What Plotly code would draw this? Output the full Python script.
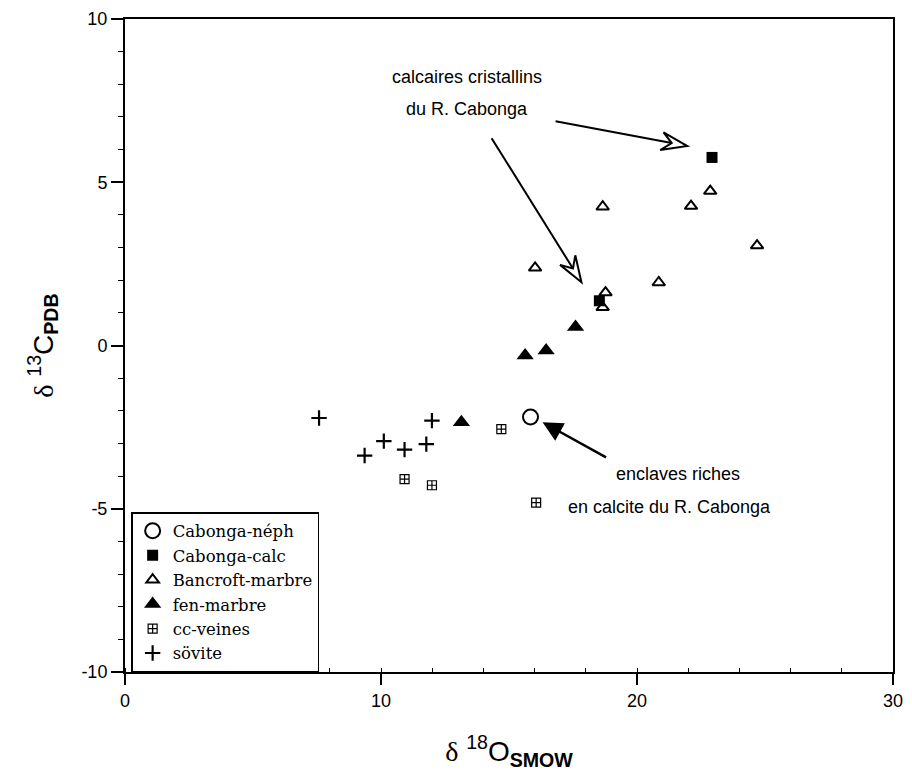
import plotly.graph_objects as go

# ---- data ----
neph_x = [15.84]
neph_y = [-2.19]
calc_x = [22.93, 18.53]
calc_y = [5.76, 1.37]
bancroft_x = [22.86, 22.11, 18.66, 24.69, 16.02, 20.85, 18.77, 18.66]
bancroft_y = [4.73, 4.27, 4.25, 3.06, 2.38, 1.93, 1.62, 1.17]
fen_x = [17.60, 16.45, 15.63, 13.14]
fen_y = [0.57, -0.15, -0.31, -2.35]
veines_x = [14.70, 10.92, 11.99, 16.06]
veines_y = [-2.56, -4.09, -4.28, -4.81]
sovite_x = [7.58, 11.99, 10.11, 9.36, 10.92, 11.77]
sovite_y = [-2.22, -2.30, -2.93, -3.37, -3.19, -3.02]

x_ticks = [0, 10, 20, 30]
y_ticks = [-10, -5, 0, 5, 10]
y_tick_labels = ["-10", "-5", "0", "5", "10"]

fig = go.Figure()
serif = "DejaVu Serif"
sans = "Liberation Sans"

fig.add_trace(go.Scatter(x=neph_x, y=neph_y, mode="markers", name="Cabonga-néph",
                         marker=dict(symbol="circle-open", size=15, color="black", line=dict(width=2))))
fig.add_trace(go.Scatter(x=calc_x, y=calc_y, mode="markers", name="Cabonga-calc",
                         marker=dict(symbol="square", size=11, color="black")))
fig.add_trace(go.Scatter(x=bancroft_x, y=bancroft_y, mode="markers", name="Bancroft-marbre",
                         marker=dict(symbol="triangle-up-open", size=11, color="black", line=dict(width=2))))
fig.add_trace(go.Scatter(x=fen_x, y=fen_y, mode="markers", name="fen-marbre",
                         marker=dict(symbol="triangle-up", size=15, color="black")))
fig.add_trace(go.Scatter(x=veines_x, y=veines_y, mode="markers", name="cc-veines",
                         marker=dict(symbol="square-cross-open", size=9, color="black", line=dict(width=1.2))))
fig.add_trace(go.Scatter(x=sovite_x, y=sovite_y, mode="markers", name="sövite",
                         marker=dict(symbol="cross-thin-open", size=11, color="black", line=dict(width=2.2))))

# ---- annotation arrows ----
PX_X = 25.6   # pixels per x unit
PX_Y = 32.6   # pixels per y unit


def hollow_arrow(x0, y0, x1, y1, length=26, half=9, notch=10):
    import math
    dxp = (x1 - x0) * PX_X
    dyp = (y1 - y0) * PX_Y
    L = math.hypot(dxp, dyp)
    ux, uy = dxp / L, dyp / L
    nx, ny = -uy, ux

    def pt(back, side):
        return (x1 + (-ux * back + nx * side) / PX_X, y1 + (-uy * back + ny * side) / PX_Y)
    p_l = pt(length, half)
    p_n = pt(length - notch, 0)
    p_r = pt(length, -half)
    fig.add_shape(type="line", x0=x0, y0=y0, x1=p_n[0], y1=p_n[1], xref="x", yref="y",
                  line=dict(color="black", width=2))
    path = f"M {x1},{y1} L {p_l[0]},{p_l[1]} L {p_n[0]},{p_n[1]} L {p_r[0]},{p_r[1]} Z"
    fig.add_shape(type="path", path=path, xref="x", yref="y",
                  line=dict(color="black", width=2), fillcolor="white")


hollow_arrow(16.82, 6.87, 21.97, 6.11)
hollow_arrow(14.32, 6.35, 17.83, 1.94)

fig.add_annotation(x=16.31, y=-2.35, ax=18.85, ay=-3.45, xref="x", yref="y", axref="x", ayref="y",
                   text="", showarrow=True, arrowhead=2, arrowsize=1.6, arrowwidth=2.5, arrowcolor="black")

txt_font = dict(family=sans, size=18, color="black")
fig.add_annotation(x=13.34, y=8.23, text="calcaires cristallins", showarrow=False, font=txt_font)
fig.add_annotation(x=13.34, y=7.23, text="du R. Cabonga", showarrow=False, font=txt_font)
fig.add_annotation(x=21.62, y=-3.94, text="enclaves riches", showarrow=False, font=txt_font)
fig.add_annotation(x=21.26, y=-4.95, text="en calcite du R. Cabonga", showarrow=False, font=txt_font)

fig.update_layout(
    width=896, height=765,
    margin=dict(l=117, r=11, t=11, b=101),
    paper_bgcolor="white", plot_bgcolor="white",
    font=dict(family=sans, color="black"),
    showlegend=True,
    legend=dict(x=0.008, y=0.245, xanchor="left", yanchor="top",
                bordercolor="black", borderwidth=1.5, bgcolor="white",
                font=dict(family=serif, size=16.5, color="black")),
    xaxis=dict(range=[0, 30], tickvals=x_ticks, ticks="outside", ticklen=11, tickwidth=1.5,
               tickcolor="black", showline=True, linecolor="black", linewidth=2, mirror=True,
               showgrid=False, zeroline=False, tickfont=dict(family=sans, size=18),
               automargin=False, ticklabeloverflow="allow",
               minor=dict(dtick=2, ticks="inside", ticklen=4, tickcolor="black", tickwidth=1, showgrid=False),
               title=dict(text="<span style='font-family:Liberation Serif'>δ</span> <sup>18</sup>O<sub><b>SMOW</b></sub>",
                          font=dict(family=sans, size=28), standoff=32)),
    yaxis=dict(range=[-10, 10], tickvals=y_ticks, ticktext=y_tick_labels, ticks="outside", ticklen=12,
               tickwidth=1.5, tickcolor="black", showline=True, linecolor="black", linewidth=2, mirror=True,
               showgrid=False, zeroline=False, tickfont=dict(family=sans, size=18),
               automargin=False, ticklabeloverflow="allow",
               minor=dict(dtick=1, ticks="outside", ticklen=5, tickcolor="black", tickwidth=1, showgrid=False),
               title=dict(text="<span style='font-family:Liberation Serif'>δ</span> <sup>13</sup>C<sub><b>PDB</b></sub>",
                          font=dict(family=sans, size=28), standoff=20)),
)

fig.write_html("out.html")
